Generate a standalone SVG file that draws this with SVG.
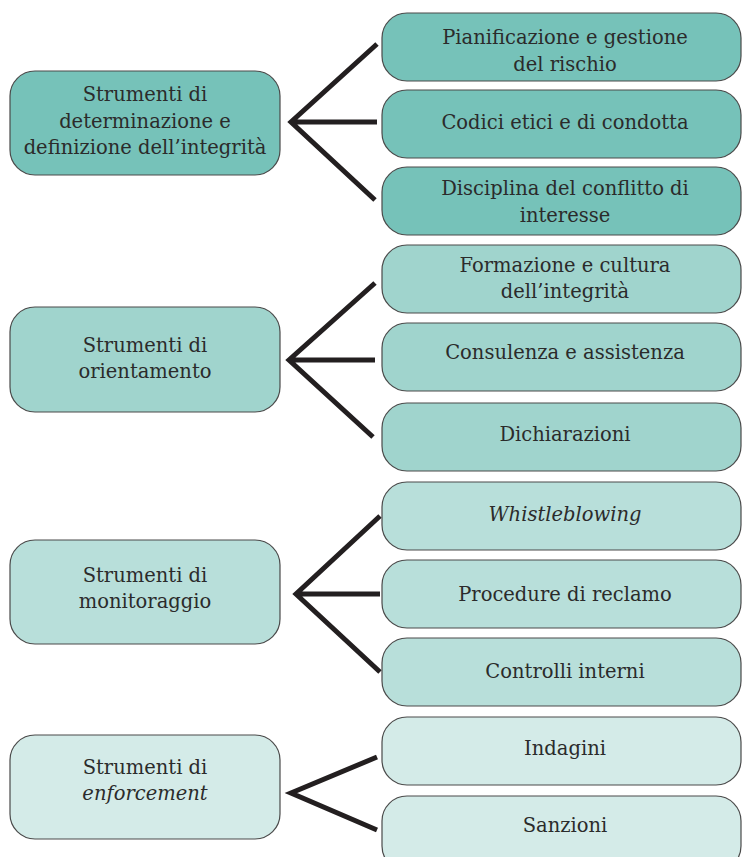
<svg xmlns="http://www.w3.org/2000/svg" width="742" height="857" viewBox="0 0 742 857">
<style>
.b{stroke:#4a4a4a;stroke-width:1.2}
.c1{fill:#76c2b9}.c2{fill:#a0d4cd}.c3{fill:#b8dfda}.c4{fill:#d4ebe8}
text{font-family:"DejaVu Serif","Liberation Serif",serif;font-size:19.5px;fill:#2b2b2b;text-anchor:middle}
.i{font-style:italic}
.k{fill:none;stroke:#231f20;stroke-width:5;stroke-linejoin:miter;stroke-miterlimit:10}
</style>
<rect width="742" height="857" fill="#fff"/>
<g id="connectors">
<path class="k" d="M377,44 L291,122 L375,200 M291,122 H377"/>
<path class="k" d="M375,283 L289,360 L373,437 M289,360 H375"/>
<path class="k" d="M380,516 L296,594 L380,672 M296,594 H380"/>
<path class="k" d="M377,757 L291,793 L377,830"/>
</g>
<g id="n1"><rect class="b c1" x="10" y="71" width="270" height="104" rx="25"/>
<text x="145" y="101">Strumenti di</text><text x="145" y="128">determinazione e</text><text x="145" y="154">definizione dell’integrità</text></g>
<g id="n2"><rect class="b c2" x="10" y="307" width="270" height="105" rx="25"/>
<text x="145" y="352">Strumenti di</text><text x="145" y="378">orientamento</text></g>
<g id="n3"><rect class="b c3" x="10" y="540" width="270" height="104" rx="25"/>
<text x="145" y="582">Strumenti di</text><text x="145" y="608">monitoraggio</text></g>
<g id="n4"><rect class="b c4" x="10" y="735" width="270" height="104" rx="25"/>
<text x="145" y="774">Strumenti di</text><text x="145" y="800" class="i">enforcement</text></g>
<g id="r1"><rect class="b c1" x="382" y="13" width="359" height="68" rx="25"/>
<text x="565" y="44">Pianificazione e gestione</text><text x="565" y="71">del rischio</text></g>
<g id="r2"><rect class="b c1" x="382" y="90" width="359" height="68" rx="25"/>
<text x="565" y="129">Codici etici e di condotta</text></g>
<g id="r3"><rect class="b c1" x="382" y="167" width="359" height="68" rx="25"/>
<text x="565" y="195">Disciplina del conflitto di</text><text x="565" y="222">interesse</text></g>
<g id="r4"><rect class="b c2" x="382" y="245" width="359" height="68" rx="25"/>
<text x="565" y="272">Formazione e cultura</text><text x="565" y="298">dell’integrità</text></g>
<g id="r5"><rect class="b c2" x="382" y="323" width="359" height="68" rx="25"/>
<text x="565" y="359">Consulenza e assistenza</text></g>
<g id="r6"><rect class="b c2" x="382" y="403" width="359" height="68" rx="25"/>
<text x="565" y="441">Dichiarazioni</text></g>
<g id="r7"><rect class="b c3" x="382" y="482" width="359" height="68" rx="25"/>
<text x="565" y="521" class="i">Whistleblowing</text></g>
<g id="r8"><rect class="b c3" x="382" y="560" width="359" height="68" rx="25"/>
<text x="565" y="601">Procedure di reclamo</text></g>
<g id="r9"><rect class="b c3" x="382" y="638" width="359" height="68" rx="25"/>
<text x="565" y="678">Controlli interni</text></g>
<g id="r10"><rect class="b c4" x="382" y="717" width="359" height="68" rx="25"/>
<text x="565" y="755">Indagini</text></g>
<g id="r11"><rect class="b c4" x="382" y="796" width="359" height="75" rx="25"/>
<text x="565" y="832">Sanzioni</text></g>
</svg>
